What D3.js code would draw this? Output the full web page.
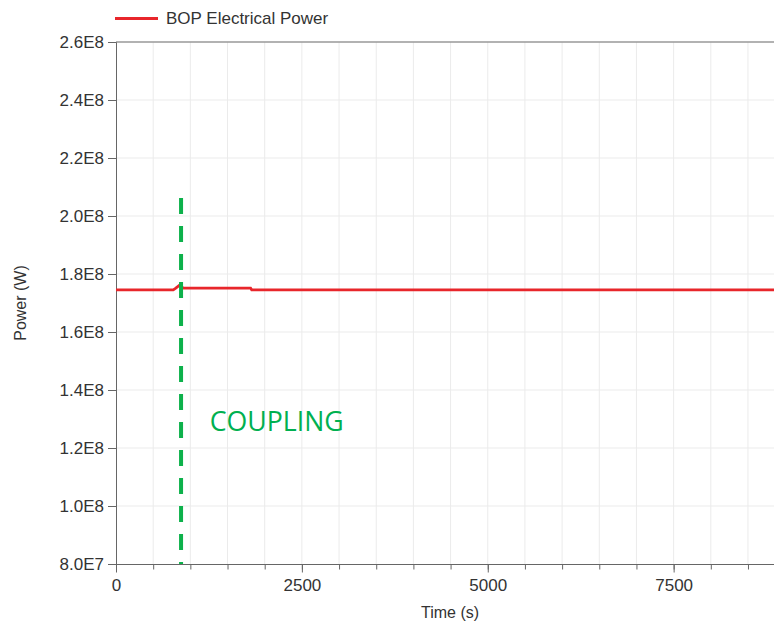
<!DOCTYPE html>
<html>
<head>
<meta charset="utf-8">
<script src="https://cdn.jsdelivr.net/npm/d3@7"></script>
<style>
  html, body { margin: 0; padding: 0; background: #fff; }
  svg { display: block; }
  text { font-family: "Liberation Sans", Arial, sans-serif; }
</style>
</head>
<body>
<svg id="chart" width="774" height="623"></svg>
<script>
// Simulation output: balance-of-plant electrical power vs. time
const timeSeconds = [0, 770, 800, 860, 900, 1810, 1825, 8850];
const bopPower    = [1.7455e8, 1.7455e8, 1.7505e8, 1.7625e8, 1.7515e8, 1.7515e8, 1.7455e8, 1.7455e8];

const seriesName = "BOP Electrical Power";
const xTickValues = [0, 2500, 5000, 7500];
const yTickValues = [8.0e7, 1.0e8, 1.2e8, 1.4e8, 1.6e8, 1.8e8, 2.0e8, 2.2e8, 2.4e8, 2.6e8];
const yTickLabels = ["8.0E7", "1.0E8", "1.2E8", "1.4E8", "1.6E8", "1.8E8", "2.0E8", "2.2E8", "2.4E8", "2.6E8"];

// Coupling event marker
const couplingTime = 875;
const couplingTop = 2.062e8;
const couplingLabel = "COUPLING";
const couplingLabelAt = { t: 1260, v: 1.259e8 };

const xDomain = [0, 8850];
const yDomain = [8.0e7, 2.6e8];

const margin = { left: 116, top: 42, right: 0, bottom: 59 };
const W = 774, H = 623;

const svg = d3.select("#chart");
const x = d3.scaleLinear().domain(xDomain).range([margin.left, W - margin.right]);
const y = d3.scaleLinear().domain(yDomain).range([H - margin.bottom, margin.top]);

const minorX = d3.range(0, xDomain[1] + 1, 500);

// grid
const grid = svg.append("g");
grid.selectAll("line.vx").data(minorX.filter(d => d > 0)).join("line")
  .attr("x1", d => x(d)).attr("x2", d => x(d))
  .attr("y1", y(yDomain[0])).attr("y2", y(yDomain[1]))
  .attr("stroke", "#ebebeb").attr("stroke-width", 1);
grid.selectAll("line.hy").data(yTickValues.slice(1, -1)).join("line")
  .attr("x1", x(xDomain[0])).attr("x2", x(xDomain[1]))
  .attr("y1", d => y(d)).attr("y2", d => y(d))
  .attr("stroke", "#ebebeb").attr("stroke-width", 1);

// top frame line
svg.append("line")
  .attr("x1", x(0)).attr("x2", W).attr("y1", y(yDomain[1])).attr("y2", y(yDomain[1]))
  .attr("stroke", "#999").attr("stroke-width", 1.5);

// x axis: labelled major ticks + minor ticks every 500 s
const xAxisG = svg.append("g").attr("transform", `translate(0,${y(yDomain[0]) + 0.5})`);
xAxisG.call(d3.axisBottom(x).tickValues(minorX).tickSize(5).tickFormat(""))
  .call(g => g.select(".domain").remove());
xAxisG.append("g").call(d3.axisBottom(x).tickValues(xTickValues).tickSize(8).tickPadding(6).tickFormat(d3.format("d")))
  .call(g => g.select(".domain").attr("d", `M${x(0)},0H${W}`));
xAxisG.selectAll("line").attr("stroke", "#666");
xAxisG.selectAll(".domain").attr("stroke", "#666");
xAxisG.selectAll("text").attr("font-size", 17).attr("fill", "#333")
  .style("font-family", '"Liberation Sans", Arial, sans-serif');

// y axis
const yAxisG = svg.append("g").attr("transform", `translate(${x(0)},0)`);
yAxisG.call(d3.axisLeft(y).tickValues(yTickValues).tickSize(8).tickPadding(4)
  .tickFormat((d, i) => yTickLabels[i]));
yAxisG.selectAll("line, .domain").attr("stroke", "#666");
yAxisG.selectAll("text").attr("font-size", 17).attr("fill", "#333")
  .style("font-family", '"Liberation Sans", Arial, sans-serif');

// axis titles
svg.append("text")
  .attr("x", 450).attr("y", 618)
  .attr("text-anchor", "middle").attr("font-size", 16).attr("fill", "#333")
  .text("Time (s)");
svg.append("text")
  .attr("transform", `translate(26,${(y(yDomain[0]) + y(yDomain[1])) / 2}) rotate(-90)`)
  .attr("text-anchor", "middle").attr("font-size", 16).attr("fill", "#333")
  .text("Power (W)");

// power line
const line = d3.line().x((d, i) => x(timeSeconds[i])).y(d => y(d));
svg.append("path")
  .datum(bopPower)
  .attr("d", line)
  .attr("fill", "none")
  .attr("stroke", "#e8262b")
  .attr("stroke-width", 2.8);

// coupling marker
svg.append("line")
  .attr("x1", x(couplingTime)).attr("x2", x(couplingTime))
  .attr("y1", y(couplingTop)).attr("y2", y(yDomain[0]))
  .attr("stroke", "#0db14b").attr("stroke-width", 4)
  .attr("stroke-dasharray", "16 12");

svg.append("text")
  .attr("x", x(couplingLabelAt.t)).attr("y", y(couplingLabelAt.v))
  .attr("font-size", 28).attr("fill", "#00b050")
  .style("font-family", '"Open Sans", "Noto Sans", sans-serif')
  .attr("textLength", 134).attr("lengthAdjust", "spacingAndGlyphs")
  .text(couplingLabel);

// legend
const lg = svg.append("g");
lg.append("line").attr("x1", 115).attr("x2", 158).attr("y1", 18.5).attr("y2", 18.5)
  .attr("stroke", "#e8262b").attr("stroke-width", 3);
lg.append("text").attr("x", 166).attr("y", 24).attr("font-size", 17).attr("fill", "#333")
  .text(seriesName);
</script>
</body>
</html>
